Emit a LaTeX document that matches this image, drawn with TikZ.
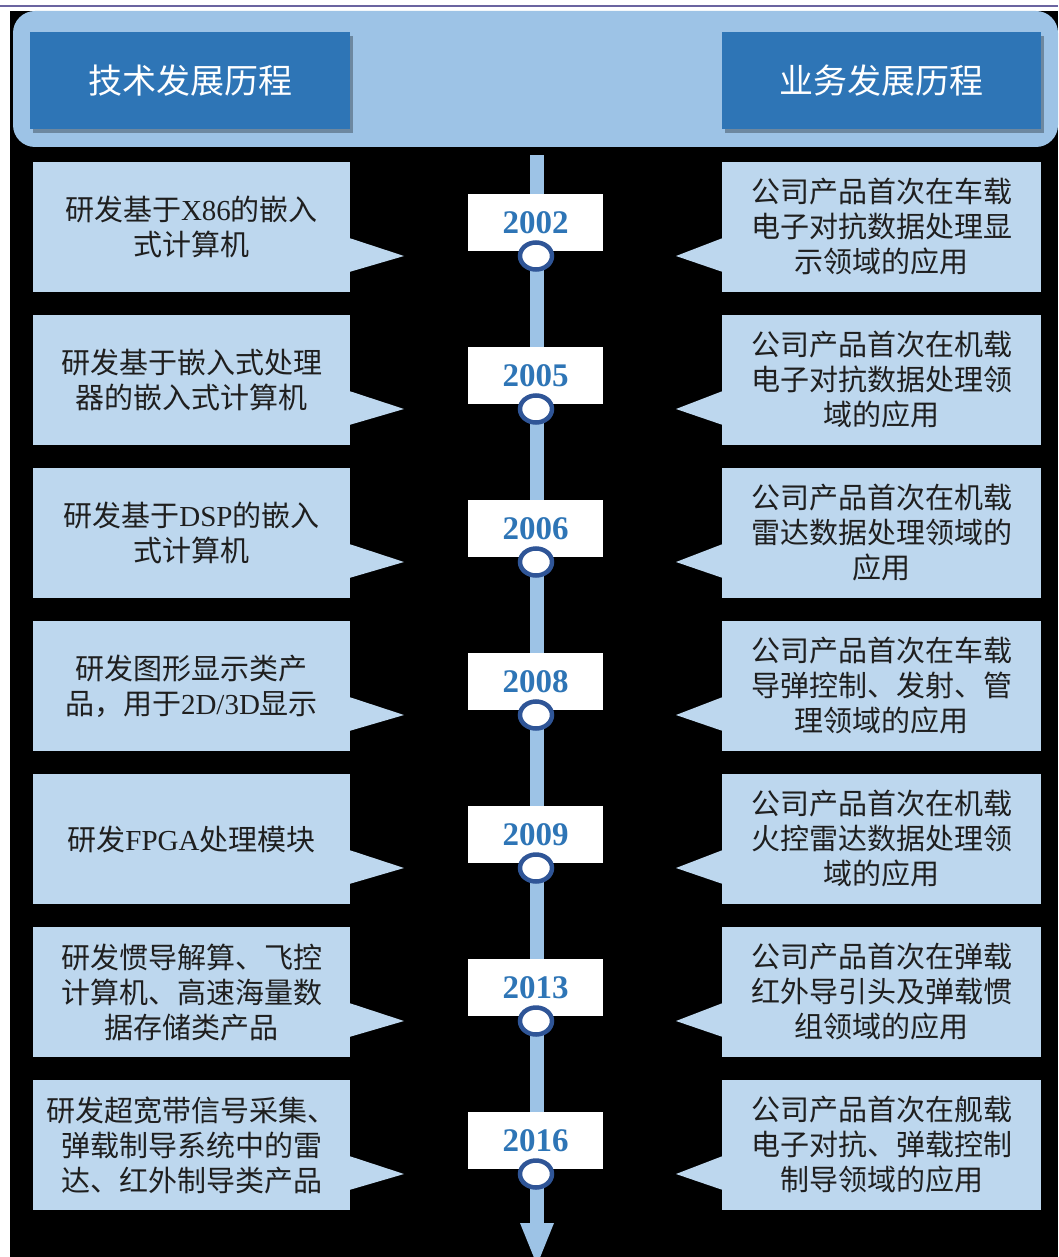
\documentclass[tikz,border=0pt]{standalone}
\usepackage{fontspec}
\setmainfont{Liberation Serif}
\newfontfamily\cjk{Noto Sans CJK SC}
\usetikzlibrary{shapes.geometric,shadows}
\definecolor{bandblue}{HTML}{9DC3E6}
\definecolor{headblue}{HTML}{2E75B6}
\definecolor{boxblue}{HTML}{BDD7EE}
\definecolor{ringblue}{HTML}{2F5597}
\definecolor{topline}{HTML}{6B64A0}
\definecolor{txtdark}{HTML}{1F1F1F}
\newcommand\latn[1]{{\rmfamily #1}}
\begin{document}
\begin{tikzpicture}[x=1pt,y=-1pt,
  callbox/.style={fill=boxblue, minimum width=317pt, minimum height=130pt, inner sep=0pt,
    align=center, text=txtdark, font=\cjk\fontsize{29pt}{35pt}\selectfont},
  headbox/.style={fill=headblue, minimum width=320pt, minimum height=97pt, inner sep=0pt,
    text=white, font=\cjk\fontsize{34pt}{34pt}\selectfont,
    drop shadow={shadow xshift=3pt, shadow yshift=-4pt, opacity=0.3, fill=black}},
  yearbox/.style={fill=white, minimum width=135pt, minimum height=57pt, inner sep=0pt,
    text=headblue, font=\bfseries\fontsize{33pt}{33pt}\selectfont},
  ring/.style={ellipse, draw=ringblue, line width=4.5pt, fill=white,
    minimum width=32pt, minimum height=27pt, inner sep=0pt}]
\useasboundingbox (0,0) rectangle (1058,1257);
% background
\fill[white] (0,0) rectangle (1058,1257);
\fill[black] (10,11) rectangle (1058,1257);
\draw[topline, line width=2pt] (0,6.5) -- (1058,6.5);
% header band
\node[fill=bandblue, rounded corners=22pt, minimum width=1045pt, minimum height=136pt, inner sep=0pt] (band) at (535.5,79) {};
\node[headbox] (h1) at (190,80.5) {技术发展历程};
\node[headbox, minimum width=319pt] (h2) at (881.5,80.5) {业务发展历程};
% timeline stick
\coordinate (s0) at (537,155);
\coordinate (s1) at (537,1223);
\fill[bandblue] ([xshift=-7pt]s0) rectangle ([xshift=7pt]s1);
\fill[bandblue] ([xshift=-17pt]s1) -- ([xshift=17pt]s1) -- ([yshift=-42pt]s1) -- cycle;
\newcommand\tlrow[4]{%
  \pgfmathsetmacro\cy{227+153*#1}
  \node[callbox] (L#1) at (191.5,\cy) {#3};
  \node[callbox, minimum width=319pt] (R#1) at (881.5,\cy) {#4};
  \coordinate (LP#1) at (404,\cy+29);
  \coordinate (RP#1) at (676,\cy+29);
  \fill[boxblue] ([xshift=-1pt,yshift=-11pt]L#1.east) -- (LP#1) -- ([xshift=-1pt,yshift=-45pt]L#1.east) -- cycle;
  \fill[boxblue] ([xshift=1pt,yshift=-11pt]R#1.west) -- (RP#1) -- ([xshift=1pt,yshift=-45pt]R#1.west) -- cycle;
  \node[yearbox] (Y#1) at (535.5,\cy-4.5) {#2};
  \node[ring] (C#1) at (536,\cy+29) {};
}
\tlrow{0}{2002}{研发基于\latn{X86}的嵌入\\式计算机}{公司产品首次在车载\\电子对抗数据处理显\\示领域的应用}
\tlrow{1}{2005}{研发基于嵌入式处理\\器的嵌入式计算机}{公司产品首次在机载\\电子对抗数据处理领\\域的应用}
\tlrow{2}{2006}{研发基于\latn{DSP}的嵌入\\式计算机}{公司产品首次在机载\\雷达数据处理领域的\\应用}
\tlrow{3}{2008}{研发图形显示类产\\品，用于\latn{2D/3D}显示}{公司产品首次在车载\\导弹控制、发射、管\\理领域的应用}
\tlrow{4}{2009}{研发\latn{FPGA}处理模块}{公司产品首次在机载\\火控雷达数据处理领\\域的应用}
\tlrow{5}{2013}{研发惯导解算、飞控\\计算机、高速海量数\\据存储类产品}{公司产品首次在弹载\\红外导引头及弹载惯\\组领域的应用}
\tlrow{6}{2016}{研发超宽带信号采集、\\弹载制导系统中的雷\\达、红外制导类产品}{公司产品首次在舰载\\电子对抗、弹载控制\\制导领域的应用}
\end{tikzpicture}
\end{document}
